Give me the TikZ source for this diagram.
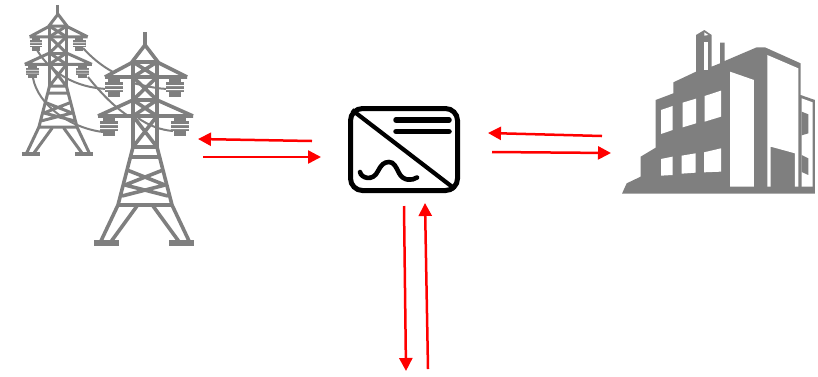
\documentclass[tikz,border=0pt]{standalone}
\usetikzlibrary{arrows.meta}
\definecolor{icongray}{HTML}{7F7F7F}
\definecolor{flowred}{HTML}{FF0000}
\tikzset{
  flow/.style={draw=flowred,line width=2.5pt,-{Triangle[length=13pt,width=13pt,fill=flowred]}},
  wire/.style={draw=icongray,line width=2pt},
  frame/.style={draw=black,line width=5pt,rounded corners=12pt,minimum width=107pt,minimum height=82pt,inner sep=0pt},
  busbar/.style={draw=black,line width=5.5pt,line cap=round},
  waveline/.style={draw=black,line width=4.6pt,line cap=round},
  cutout/.style={fill=white,draw=none},
  pics/tower/.style={code={
    \begin{scope}[draw=icongray,fill=icongray,line width=#1,line join=round]
      % spire and peak
      \draw (145,32)--(145,45);
      \draw (132,62)--(145,45)--(158,62)--cycle;
      % arms
      \draw (105,77)--(187,77) (105,77)--(133,62) (187,77)--(157,62);
      \draw (98,116)--(193,116) (98,116)--(133,100) (193,116)--(157,100);
      \draw (133,100)--(157,100);
      % body
      \draw (133,62)--(133,147) (157,62)--(157,147);
      \draw (133,62)--(157,77)--(133,100)--(157,116)--(133,147)--(157,147)--(133,116)--(157,100)--(133,77)--(157,62);
      % lower body
      \draw (133,147)--(118,205)--(172,205)--(157,147);
      \draw (130,157)--(160,157) (127,170)--(165,185)--(122,196) (163,170)--(125,185)--(168,196);
      \draw (118,205)--(100,243) (172,205)--(190,243);
      \draw (137,206)--(110,243) (153,206)--(180,243);
      \draw[line width=1.5*#1] (94,243)--(119,243) (169,243)--(194,243);
      % insulators
      \foreach \ix/\iy in {114/77,175/77,109/116,180/116}{
        \fill (\ix-6,\iy)rectangle(\ix+6,\iy+20);
        \fill (\ix-9,\iy+5)rectangle(\ix+9,\iy+15);
        \fill[white] (\ix-9,\iy+8)rectangle(\ix+9,\iy+9) (\ix-9,\iy+12)rectangle(\ix+9,\iy+13);
      }
    \end{scope}
  }}
}
\begin{document}
\begin{tikzpicture}[x=1pt,y=-1pt]
  \useasboundingbox (0,0) rectangle (818,376);

  % small pylon: same drawing as the large one, scaled
  \pic[xshift=-44.4pt,yshift=17.6pt,scale=.706,transform shape] {tower=3pt};
  % conductors
  \draw[wire] (83,48) .. controls (92,58) and (102,66) .. (113,72);
  \draw[wire] (37,50) .. controls (50,72) and (75,88) .. (108,89);
  \draw[wire] (88,77) .. controls (100,92) and (115,108) .. (130,117);
  \draw[wire] (33,78) .. controls (38,105) and (70,128) .. (103,132);
  \draw[wire] (133,83) .. controls (145,86) and (158,89) .. (170,89);
  \draw[wire] (138,118) .. controls (148,125) and (160,130) .. (173,131);
  % large pylon
  \pic {tower=3.6pt};

  % inverter
  \node[frame] (inverter) at (404,149.5) {};
  \draw[line width=4.2pt,draw=black] ([xshift=4pt,yshift=-4pt]inverter.north west) -- ([xshift=-5pt,yshift=4pt]inverter.south east);
  \draw[busbar] (396,120)--(449,120);
  \draw[busbar] (396,131.5)--(449,131.5);
  \draw[waveline] (360,172) .. controls (361,178) and (373,182) .. (378,171)
     .. controls (381,165) and (384,162) .. (389,162)
     .. controls (394,162) and (396,167) .. (399,173)
     .. controls (403,181) and (412,181) .. (417,177.5);

  % factory
  \begin{scope}[shift={(610,20)},x=.3333pt,y=-.3333pt]
    \fill[icongray] (36,521)--(50,490)--(92,470)--(92,410)--(137,383)--(137,240)--(190,220)--(190,187)--(258,155)--(258,45)--(283,30)--(305,45)--(305,140)--(330,130)--(330,68)--(344,68)--(344,123)--(440,82)--(465,82)--(572,130)--(572,225)--(615,240)--(615,521)--cycle;
    \fill[cutout] (283,65)--(293,65)--(293,150)--(283,150)--cycle;
    \fill[cutout] (283,37)--(295,45)--(283,47)--cycle;
    \fill[cutout] (153,270)--(188,258)--(188,330)--(153,342)--cycle;
    \fill[cutout] (218,248)--(258,236)--(258,310)--(218,322)--cycle;
    \fill[cutout] (284,228)--(333,212)--(333,290)--(284,305)--cycle;
    \fill[cutout] (153,417)--(188,410)--(188,465)--(153,467)--cycle;
    \fill[cutout] (215,407)--(257,400)--(257,458)--(215,461)--cycle;
    \fill[cutout] (282,397)--(333,385)--(333,455)--(282,457)--cycle;
    \fill[cutout] (360,155)--(432,180)--(432,500)--(360,500)--cycle;
    \fill[cutout] (472,105)--(565,145)--(565,500)--(555,500)--(555,400)--(482,380)--(482,500)--(472,500)--cycle;
    \fill[cutout] (575,235)--(608,247)--(608,500)--(575,500)--cycle;
    \fill[icongray] (575,275)--(595,283)--(595,340)--(575,346)--cycle;
    \fill[icongray] (575,405)--(595,415)--(595,465)--(575,456)--cycle;
  \end{scope}

  % flow arrows
  \coordinate (gridIn) at (312,141);   \coordinate (gridHead) at (198,139);
  \coordinate (gridOut) at (203,157);  \coordinate (invHeadL) at (321,157);
  \coordinate (facIn) at (602,136);    \coordinate (invHeadR) at (488,133);
  \coordinate (facOut) at (492,152);   \coordinate (facHead) at (611,153);
  \coordinate (downTail) at (404,206); \coordinate (downHead) at (406,371);
  \coordinate (upTail) at (428,369);   \coordinate (upHead) at (425,203);
  \draw[flow] (gridIn)--(gridHead);
  \draw[flow] (gridOut)--(invHeadL);
  \draw[flow] (facIn)--(invHeadR);
  \draw[flow] (facOut)--(facHead);
  \draw[flow] (downTail)--(downHead);
  \draw[flow] (upTail)--(upHead);
\end{tikzpicture}
\end{document}
